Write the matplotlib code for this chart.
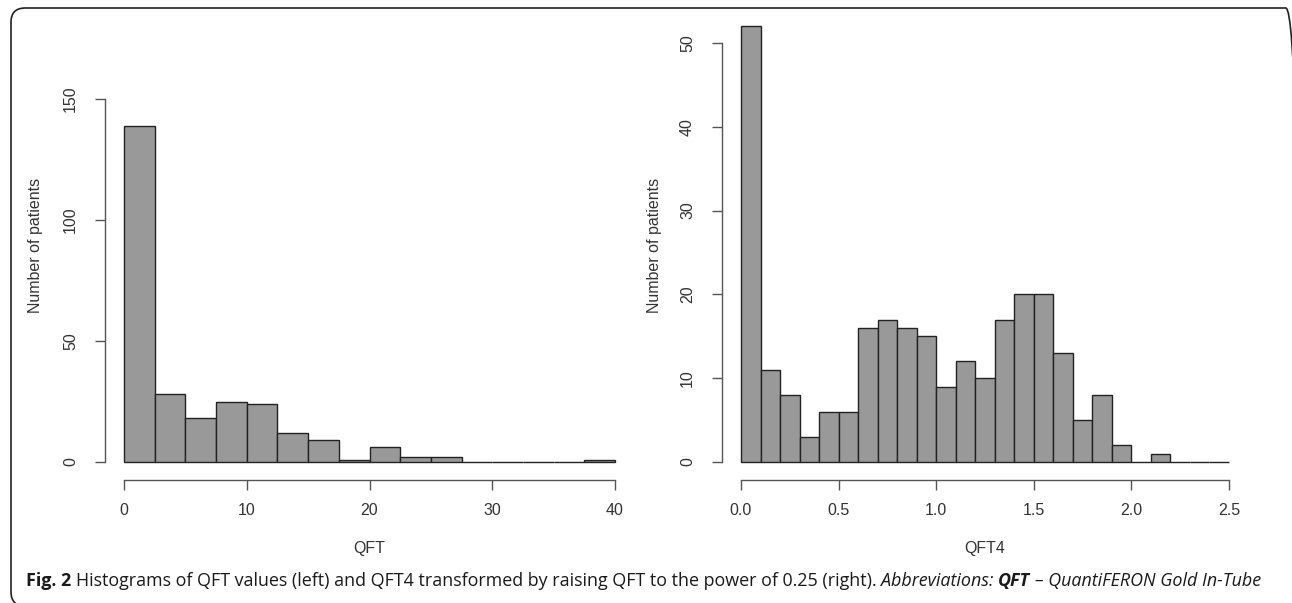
import matplotlib
matplotlib.use('Agg')
import matplotlib.pyplot as plt
from matplotlib.patches import FancyBboxPatch
import numpy as np

# Dados
qft_bin_width = 2.5
qft_counts = [139, 28, 18, 25, 24, 12, 9, 1, 6, 2, 2, 0, 0, 0, 0, 1]
qft_ticks = [0, 10, 20, 30, 40]

qft4_bin_width = 0.1
qft4_counts = [52, 11, 8, 3, 6, 6, 16, 17, 16, 15, 9, 12, 10, 17, 20, 20,
               13, 5, 8, 2, 0, 1, 0, 0, 0]
qft4_ticks = [0.0, 0.5, 1.0, 1.5, 2.0, 2.5]
qft4_labels = ['0.0', '0.5', '1.0', '1.5', '2.0', '2.5']

W, H = 1292, 603
plt.rcParams['font.family'] = ['Liberation Sans', 'DejaVu Sans']
fig = plt.figure(figsize=(W / 100, H / 100), dpi=100)

TXT = '#333333'
AXC = '#555555'
PT = 0.72  # pixels -> points


def painel(x0, x1, xmax, ymax, ytop_px, counts, width, xticks, xlabels,
           yticks, xlab):
    y0 = 462
    ax = fig.add_axes([x0 / W, (H - y0) / H, (x1 - x0) / W, (y0 - ytop_px) / H])
    lefts = np.arange(len(counts)) * width
    ax.bar(lefts, counts, width=width, align='edge', color='#999999',
           edgecolor='#222222', linewidth=1.0, clip_on=False)
    ax.set_xlim(0, xmax)
    ax.set_ylim(0, ymax)
    for s in ['top', 'right']:
        ax.spines[s].set_visible(False)
    ax.spines['left'].set_position(('outward', 19 * PT))
    ax.spines['bottom'].set_position(('outward', 18 * PT))
    ax.spines['left'].set_bounds(yticks[0], yticks[-1])
    ax.spines['bottom'].set_bounds(xticks[0], xticks[-1])
    for s in ['left', 'bottom']:
        ax.spines[s].set_color(AXC)
        ax.spines[s].set_linewidth(1.0)
    ax.set_xticks(xticks)
    ax.set_xticklabels(xlabels)
    ax.set_yticks(yticks)
    ax.tick_params(axis='both', length=10 * PT, width=1.0, color=AXC,
                   labelcolor=TXT, labelsize=11.5)
    ax.tick_params(axis='x', pad=13 * PT)
    ax.tick_params(axis='y', pad=17 * PT, labelrotation=90)
    for t in ax.get_yticklabels():
        t.set_va('center')
    ax.set_xlabel(xlab, fontsize=11.5, color=TXT)
    ax.xaxis.label.set_va('center')
    ax.xaxis.set_label_coords(0.5, (y0 - 548) / (y0 - ytop_px))
    ax.set_ylabel('Number of patients', fontsize=11.5, color=TXT)
    ax.yaxis.label.set_va('center')
    return ax


ax1 = painel(124, 615, 40, 150, 99, qft_counts, qft_bin_width, qft_ticks,
             [str(t) for t in qft_ticks], [0, 50, 100, 150], 'QFT')
ax1.yaxis.set_label_coords((36 - 124) / (615 - 124), (462 - 245) / (462 - 99))

ytop2 = 462 - 52 * (462 - 43) / 50
ax2 = painel(741, 1229, 2.5, 52, ytop2, qft4_counts, qft4_bin_width, qft4_ticks,
             qft4_labels, [0, 10, 20, 30, 40, 50], 'QFT4')
ax2.yaxis.set_label_coords((655 - 741) / (1229 - 741), (462 - 245) / (462 - ytop2))

# Moldura arredondada (cortada à direita e em baixo)
frame = FancyBboxPatch((11 / W, -3 / H), (1300 - 11) / W, (606 - 8) / H,
                       boxstyle='round,pad=0,rounding_size=0.011',
                       transform=fig.transFigure, fill=False,
                       edgecolor='#222222', linewidth=1.2, mutation_aspect=W / H)
fig.patches.append(frame)

# Legenda da figura, em partes
partes = [
    ('Fig. 2', 'bold', 'normal'),
    ('Histograms of QFT values (left) and QFT4 transformed by raising QFT to the power of 0.25 (right).', 'normal', 'normal'),
    ('Abbreviations:', 'normal', 'italic'),
    ('QFT', 'bold', 'italic'),
    ('– QuantiFERON Gold In-Tube', 'normal', 'italic'),
]
cap_font = ['Open Sans', 'DejaVu Sans']
renderer = fig.canvas.get_renderer()


def largura(txt, size, weight='normal', style='normal'):
    t = fig.text(0, 0, txt, fontsize=size, family=cap_font, weight=weight, style=style)
    w = t.get_window_extent(renderer).width
    t.remove()
    return w


def total(size):
    gap = largura('a a', size) - largura('aa', size)
    return sum(largura(p, size, wt, st) for p, wt, st in partes) + gap * (len(partes) - 1), gap


alvo = 1262 - 26
size = 11.0
tw, _ = total(size)
size = size * alvo / tw
_, gap = total(size)

x = 26
for p, wt, st in partes:
    t = fig.text(x / W, (H - 586) / H, p, fontsize=size, family=cap_font,
                 weight=wt, style=st, color='#1a1a1a', va='baseline', ha='left')
    x += t.get_window_extent(renderer).width + gap

fig.savefig('out.png', dpi=100)
